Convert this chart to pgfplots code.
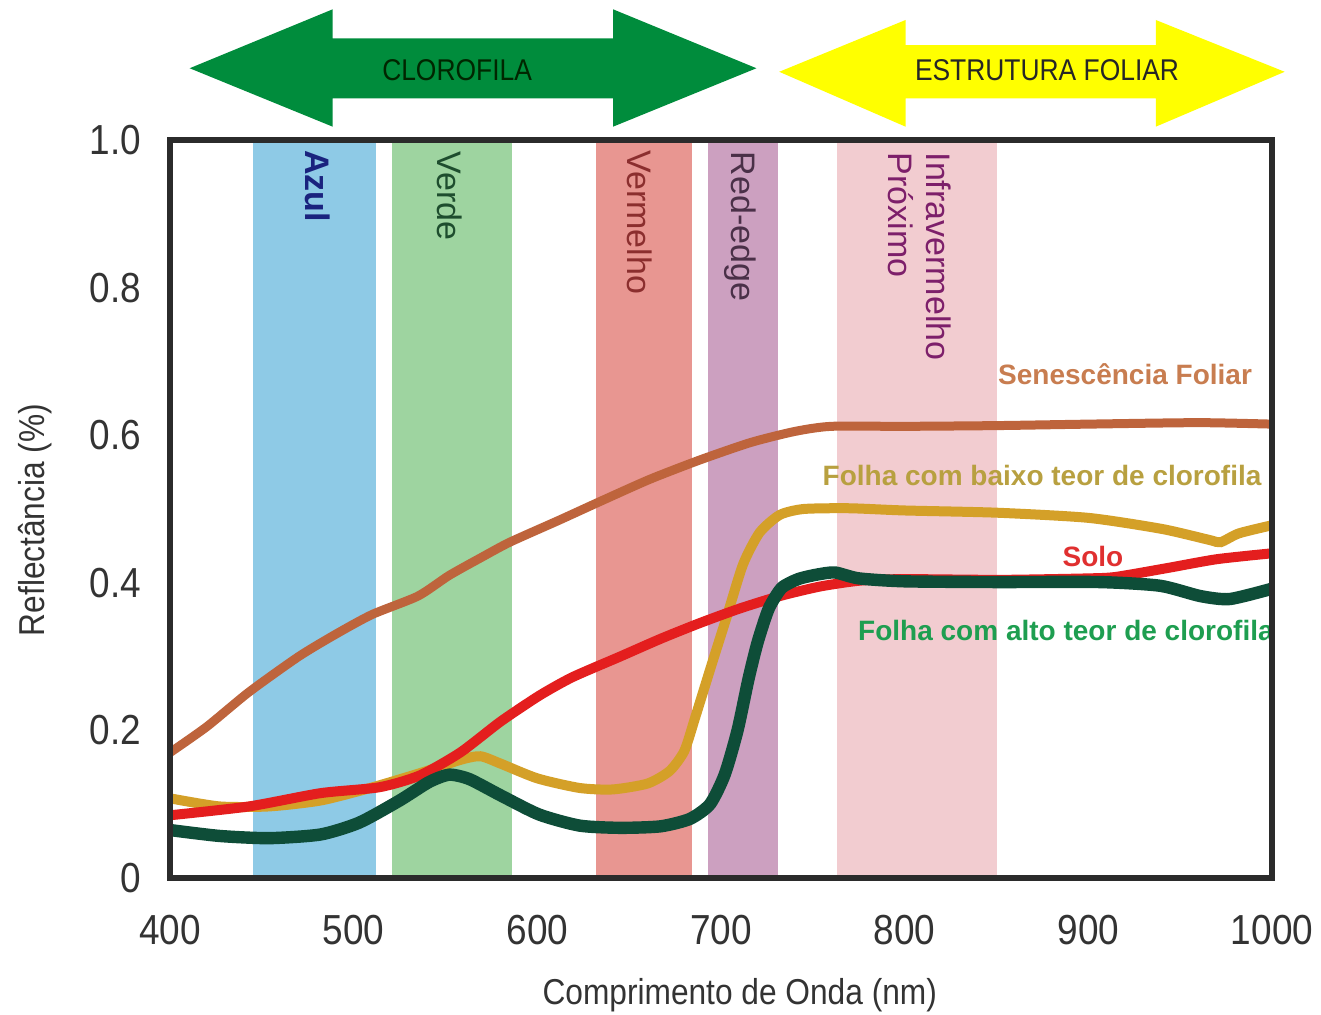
\documentclass[border=0pt]{standalone}
\usepackage{pgfplots}
\pgfplotsset{compat=1.18}
\usepackage{fontspec}
\setmainfont{Liberation Sans}
\newfontfamily\narrow[FakeStretch=0.88]{Liberation Sans}

\definecolor{cazul}{HTML}{8ECAE6}
\definecolor{cverde}{HTML}{9ED4A0}
\definecolor{cverm}{HTML}{E89691}
\definecolor{credge}{HTML}{CCA0C0}
\definecolor{cnir}{HTML}{F2CCD0}
\definecolor{lsen}{HTML}{BE643C}
\definecolor{lbaixo}{HTML}{D4A028}
\definecolor{lsolo}{HTML}{E41E1E}
\definecolor{lalto}{HTML}{0E4D38}
\definecolor{tsen}{HTML}{C87D50}
\definecolor{tbaixo}{HTML}{B8A040}
\definecolor{tsolo}{HTML}{E03030}
\definecolor{talto}{HTML}{1E9E50}
\definecolor{arrg}{HTML}{008C3C}
\definecolor{arry}{HTML}{FFFF00}
\definecolor{frame}{HTML}{2B2B2B}
\definecolor{ticktext}{HTML}{333333}
\definecolor{bazul}{HTML}{1A237E}
\definecolor{bverde}{HTML}{1E4D2E}
\definecolor{bverm}{HTML}{8B2E2E}
\definecolor{bedge}{HTML}{4A3048}
\definecolor{bnir}{HTML}{7D1F6A}

\begin{document}
\begin{tikzpicture}
\begin{axis}[
  scale only axis,
  width=275.5bp, height=184.5bp,
  xmin=400, xmax=1000, ymin=0, ymax=1,
  xtick={400,500,600,700,800,900,1000},
  xticklabels={400,500,600,700,800,900,1000},
  ytick={0,0.2,0.4,0.6,0.8,1},
  yticklabels={0,0.2,0.4,0.6,0.8,1.0},
  major tick length=0pt,
  axis line style={line width=1.3bp, color=frame},
  axis on top,
  clip=false,
  tick label style={font=\narrow\fontsize{10.5bp}{12bp}\selectfont, text=ticktext},
  xticklabel style={anchor=center, yshift=-13bp},
  yticklabel style={anchor=east, inner sep=0pt, xshift=-7bp},
  xlabel={Comprimento de Onda (nm)},
  ylabel={Reflectância (\%)},
  label style={font=\narrow\fontsize{9bp}{11bp}\selectfont, text=ticktext},
  xlabel style={at={(axis description cs:0.517,-0.1585)}, anchor=center},
  ylabel style={at={(axis description cs:-0.1225,0.485)}, anchor=center},
]
% faixas espectrais
\addplot[draw=none, fill=cazul] coordinates {(445,1) (512,1)} \closedcycle;
\addplot[draw=none, fill=cverde] coordinates {(521,1) (586,1)} \closedcycle;
\addplot[draw=none, fill=cverm] coordinates {(632,1) (684,1)} \closedcycle;
\addplot[draw=none, fill=credge] coordinates {(693,1) (731,1)} \closedcycle;
\addplot[draw=none, fill=cnir] coordinates {(763,1) (850,1)} \closedcycle;

% senescencia foliar
\addplot[lsen, line width=2.25bp, smooth, tension=0.4] coordinates {
  (400,0.170)(420,0.205)(443,0.252)(470,0.300)(490,0.330)(510,0.357)
  (535,0.382)(552,0.410)(570,0.435)(585,0.455)(612,0.485)(634,0.510)
  (661,0.540)(688,0.566)(716,0.590)(740,0.605)(760,0.612)(800,0.612)
  (850,0.613)(900,0.615)(960,0.617)(1000,0.615)
};
% baixo teor de clorofila
\addplot[lbaixo, line width=2.5bp, smooth, tension=0.4] coordinates {
  (400,0.108)(427,0.097)(454,0.097)(482,0.105)(509,0.122)(536,0.142)
  (558,0.160)(569,0.165)(580,0.155)(600,0.135)(623,0.122)(641,0.120)
  (660,0.128)(672,0.145)(680,0.172)(686,0.218)(695,0.290)(703,0.353)
  (712,0.425)(721,0.468)(732,0.492)(745,0.500)(770,0.501)(800,0.498)
  (850,0.495)(900,0.488)(940,0.473)(966,0.458)(972,0.455)(982,0.467)
  (1000,0.478)
};
% solo
\addplot[lsolo, line width=2.5bp, smooth, tension=0.4] coordinates {
  (400,0.085)(443,0.097)(482,0.115)(514,0.123)(536,0.139)(558,0.170)
  (580,0.212)(601,0.247)(619,0.272)(645,0.300)(667,0.324)(688,0.345)
  (710,0.365)(732,0.382)(754,0.395)(776,0.403)(800,0.405)(852,0.404)
  (900,0.406)(915,0.408)(943,0.420)(970,0.432)(1000,0.440)
};
% alto teor de clorofila
\addplot[lalto, line width=3.1bp, smooth, tension=0.4] coordinates {
  (400,0.065)(427,0.057)(454,0.054)(482,0.059)(503,0.075)(525,0.105)
  (541,0.130)(552,0.140)(563,0.134)(580,0.112)(601,0.086)(623,0.071)
  (645,0.068)(667,0.070)(683,0.080)(694,0.100)(702,0.140)(709,0.200)
  (715,0.270)(720,0.320)(726,0.365)(733,0.393)(742,0.405)(752,0.411)
  (762,0.414)(775,0.406)(800,0.402)(850,0.401)(906,0.401)(939,0.396)
  (961,0.382)(977,0.378)(1000,0.392)
};

% rotulos das faixas
\node[rotate=-90, anchor=west, inner sep=0pt, text=bazul, font=\bfseries\fontsize{8.5bp}{10bp}\selectfont] at (axis cs:480.6,0.987) {Azul};
\node[rotate=-90, anchor=west, inner sep=0pt, text=bverde, font=\fontsize{8.5bp}{10bp}\selectfont] at (axis cs:552.4,0.985) {Verde};
\node[rotate=-90, anchor=west, inner sep=0pt, text=bverm, font=\fontsize{8.5bp}{10bp}\selectfont] at (axis cs:655.9,0.987) {Vermelho};
\node[rotate=-90, anchor=west, inner sep=0pt, text=bedge, font=\fontsize{8.5bp}{10bp}\selectfont] at (axis cs:710.3,0.985) {Red-edge};
\node[rotate=-90, anchor=west, inner sep=0pt, align=left, text=bnir, font=\fontsize{8.5bp}{9.5bp}\selectfont] at (axis cs:808.3,0.984) {Infravermelho\\Próximo};

% rotulos das curvas
\node[text=tsen, font=\bfseries\fontsize{7bp}{8bp}\selectfont] at (axis cs:920,0.683) {Senescência Foliar};
\node[text=tbaixo, font=\bfseries\fontsize{7bp}{8bp}\selectfont] at (axis cs:874.8,0.546) {Folha com baixo teor de clorofila};
\node[text=tsolo, font=\bfseries\fontsize{7bp}{8bp}\selectfont] at (axis cs:902.5,0.436) {Solo};
\node[text=talto, font=\bfseries\fontsize{7bp}{8bp}\selectfont] at (axis cs:887.8,0.336) {Folha com alto teor de clorofila};

% setas
\fill[arrg] (axis cs:410.7,1.0972) -- (axis cs:488.6,1.1771) -- (axis cs:488.6,1.1378)
  -- (axis cs:641.2,1.1378) -- (axis cs:641.2,1.1771) -- (axis cs:719.3,1.0972)
  -- (axis cs:641.2,1.018) -- (axis cs:641.2,1.0565) -- (axis cs:488.6,1.0565)
  -- (axis cs:488.6,1.018) -- cycle;
\fill[arry] (axis cs:731.7,1.0924) -- (axis cs:800.5,1.1626) -- (axis cs:800.5,1.1287)
  -- (axis cs:936.7,1.1287) -- (axis cs:936.7,1.1626) -- (axis cs:1006.9,1.0924)
  -- (axis cs:936.7,1.018) -- (axis cs:936.7,1.0565) -- (axis cs:800.5,1.0565)
  -- (axis cs:800.5,1.018) -- cycle;
\node[text=black!85!green, font=\narrow\fontsize{7.5bp}{9bp}\selectfont] at (axis cs:556.3,1.0949) {CLOROFILA};
\node[text=black!85, font=\narrow\fontsize{7.5bp}{9bp}\selectfont] at (axis cs:877.5,1.0949) {ESTRUTURA FOLIAR};

\coordinate (bbsw) at (axis cs:307.44,-0.1843);
\coordinate (bbne) at (axis cs:1026.67,1.1897);
\end{axis}
\pgfresetboundingbox
\useasboundingbox (bbsw) rectangle (bbne);
\end{tikzpicture}
\end{document}
